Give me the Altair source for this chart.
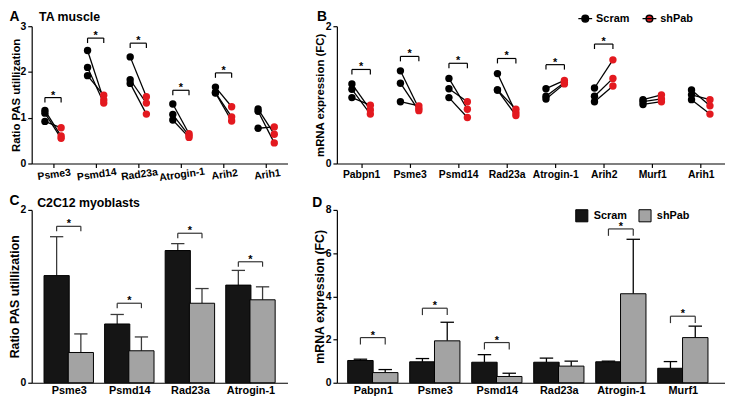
import altair as alt
import pandas as pd

FONT = "Liberation Sans"
RED = "#e3191f"
BAR_DARK = "#151515"
BAR_GRAY = "#a3a3a3"

# ---------------- data ----------------
# Panel A : TA muscle, ratio PAS utilization (3 paired animals per gene)
a_genes = ["Psme3", "Psmd14", "Rad23a", "Atrogin-1", "Arih2", "Arih1"]
a_scram = [[1.16, 1.10, 0.92], [2.47, 2.10, 1.92], [2.33, 1.83, 1.75],
           [1.30, 1.07, 0.95], [1.67, 1.55, 1.54], [1.19, 1.14, 0.77]]
a_shpab = [[0.60, 0.55, 0.78], [1.39, 1.32, 1.49], [1.46, 1.32, 1.08],
           [0.65, 0.61, 0.57], [1.24, 1.02, 0.93], [0.64, 0.45, 0.80]]
a_sig = [1.44, 2.74, 2.63, 1.60, 1.98, None]

# Panel B : TA muscle, mRNA expression (FC)
b_genes = ["Pabpn1", "Psme3", "Psmd14", "Rad23a", "Atrogin-1", "Arih2", "Murf1", "Arih1"]
b_scram = [[1.16, 1.08, 0.96], [1.35, 1.17, 0.90], [1.24, 1.09, 0.96], [1.31, 1.07, 1.07],
           [1.09, 0.98, 0.94], [1.10, 0.98, 0.90], [0.93, 0.90, 0.86], [1.07, 1.00, 0.93]]
b_shpab = [[0.78, 0.72, 0.85], [0.80, 0.77, 0.84], [0.79, 0.90, 0.67], [0.74, 0.79, 0.70],
           [1.21, 1.18, 1.16], [1.51, 1.24, 1.13], [1.00, 0.94, 0.90], [0.84, 0.93, 0.72]]
b_sig = [1.37, 1.56, 1.46, 1.53, 1.44, 1.74, None, None]

# Panel C : C2C12 myoblasts, ratio PAS utilization (mean, mean+SD)
c_genes = ["Psme3", "Psmd14", "Rad23a", "Atrogin-1"]
c_scram = [1.24, 0.68, 1.53, 1.13]
c_scram_top = [1.69, 0.79, 1.61, 1.30]
c_shpab = [0.35, 0.37, 0.92, 0.96]
c_shpab_top = [0.565, 0.53, 1.09, 1.11]
c_sig = [1.81, 0.92, 1.73, 1.40]

# Panel D : C2C12 myoblasts, mRNA expression (FC)
d_genes = ["Pabpn1", "Psme3", "Psmd14", "Rad23a", "Atrogin-1", "Murf1"]
d_scram = [1.03, 0.97, 0.95, 0.95, 0.97, 0.67]
d_scram_top = [1.09, 1.12, 1.30, 1.14, 1.00, 0.98]
d_shpab = [0.47, 1.94, 0.29, 0.77, 4.12, 2.09]
d_shpab_top = [0.61, 2.80, 0.44, 1.00, 6.64, 2.62]
d_sig = [2.09, 3.45, 1.86, None, 7.12, 3.08]

groups = ["Scram", "shPab"]

# symbol: short line with a dot in the middle
LINE_DOT = "M-1,0L1,0M0.48,0A0.48,0.48,0,1,1,-0.48,0A0.48,0.48,0,1,1,0.48,0Z"


def names_expr(names):
    return "[" + ",".join("'%s'" % n for n in names) + "][datum.value]"


def make_x(dom, names, angle, ticks, lsize):
    ax = alt.Axis(values=list(range(len(names))), labelExpr=names_expr(names), title=None,
                  labelAngle=angle, labelAlign="center", labelBaseline="top",
                  ticks=ticks, tickSize=4 if ticks else 0, labelPadding=2,
                  labelFontSize=lsize, grid=False)
    sc = alt.Scale(domain=dom, nice=False, zero=False)
    return lambda f: alt.X(f, type="quantitative", scale=sc, axis=ax)


def make_y(dom, ticks, title, title_x, height, tsize, lsize):
    ax = alt.Axis(values=ticks, format="d", title=title, titleX=title_x, titleY=height / 2,
                  titleAngle=270, titleAlign="center", titleBaseline="bottom",
                  titleFontSize=tsize, labelFontSize=lsize, tickSize=4,
                  labelPadding=2, grid=False)
    sc = alt.Scale(domain=dom, nice=False, zero=True)
    return lambda f: alt.Y(f, type="quantitative", scale=sc, axis=ax)


def label_layer(text, x, y, size):
    return alt.Chart(pd.DataFrame({"t": [text]})).mark_text(
        align="left", baseline="alphabetic", fontSize=size, fontWeight="bold",
        font=FONT, color="black").encode(text="t:N", x=alt.value(x), y=alt.value(y))


def bracket_layers(sig, offset, X, Y, drop, color):
    br = pd.DataFrame([{"x1": i - offset, "x2": i + offset, "xm": i, "yb": s}
                       for i, s in enumerate(sig) if s is not None])
    ends = pd.DataFrame([{"xe": i + d, "yb": s} for i, s in enumerate(sig)
                         if s is not None for d in (-offset, offset)])
    h = alt.Chart(br).mark_rule(color=color, strokeWidth=1.2).encode(
        x=X("x1"), x2="x2:Q", y=Y("yb"))
    v = alt.Chart(ends).mark_rule(color=color, strokeWidth=1.2, y2Offset=drop).encode(
        x=X("xe"), y=Y("yb"), y2="yb:Q")
    star = alt.Chart(br).mark_text(text="*", fontSize=11, fontWeight="bold", font=FONT,
                                   baseline="alphabetic", dy=1, color="black").encode(
        x=X("xm"), y=Y("yb"))
    return [h, v, star]


def paired_panel(genes, scram, shpab, sig, width, height, ydom, yticks, ytitle, title_x,
                 angle, legend, letter, letter_x, letter_y, title=None):
    off = 0.19
    X = make_x([-0.5, len(genes) - 0.5], genes, angle, True, 10.5)
    Y = make_y(ydom, yticks, ytitle, title_x, height, 11.5, 10.5)
    rows = []
    for i, g in enumerate(genes):
        for r in range(len(scram[i])):
            rows.append({"pair": "%s-%d" % (g, r), "cond": "Scram", "x": i - off, "y": scram[i][r]})
            rows.append({"pair": "%s-%d" % (g, r), "cond": "shPab", "x": i + off, "y": shpab[i][r]})
    df = pd.DataFrame(rows)
    lines = alt.Chart(df).mark_line(color="black", strokeWidth=1.3).encode(
        x=X("x"), y=Y("y"), detail="pair:N")
    pts = alt.Chart(df).mark_circle(size=56, opacity=1).encode(
        x=X("x"), y=Y("y"),
        color=alt.Color("cond:N", scale=alt.Scale(domain=groups, range=["black", RED]),
                        legend=legend))
    layers = [lines, pts] + bracket_layers(sig, off, X, Y, 5, "black")
    layers.append(label_layer(letter, letter_x, letter_y, 14))
    if title:
        layers.append(label_layer(title, 7.5, letter_y, 12.5))
    return alt.layer(*layers).properties(width=width, height=height)


def bar_panel(genes, scram, scram_top, shpab, shpab_top, sig, width, height, dom, ydom, yticks,
              ytitle, title_x, legend, letter, letter_x, letter_y, ecolor, drop, title=None):
    off = 0.2
    unit = width / (dom[1] - dom[0])
    cap = 7.0 / unit
    X = make_x(dom, genes, 0, False, 11)
    Y = make_y(ydom, yticks, ytitle, title_x, height, 12.5, 10.5)
    rows = []
    for i, g in enumerate(genes):
        rows.append({"grp": "Scram", "x": i - off, "y": scram[i], "e": scram_top[i],
                     "c1": i - off - cap, "c2": i - off + cap})
        rows.append({"grp": "shPab", "x": i + off, "y": shpab[i], "e": shpab_top[i],
                     "c1": i + off - cap, "c2": i + off + cap})
    df = pd.DataFrame(rows)
    whisk = alt.Chart(df).mark_rule(color=ecolor, strokeWidth=1.3).encode(
        x=X("x"), y=Y("y"), y2="e:Q")
    caps = alt.Chart(df).mark_rule(color=ecolor, strokeWidth=1.3).encode(
        x=X("c1"), x2="c2:Q", y=Y("e"))
    bars = alt.Chart(df).mark_bar(size=2 * off * unit, stroke="black", strokeWidth=1,
                                  opacity=1).encode(
        x=X("x"), y=Y("y"),
        color=alt.Color("grp:N", scale=alt.Scale(domain=groups, range=[BAR_DARK, BAR_GRAY]),
                        legend=legend))
    layers = [whisk, caps, bars] + bracket_layers(sig, off, X, Y, drop, "#333333")
    layers.append(label_layer(letter, letter_x, letter_y, 14))
    if title:
        layers.append(label_layer(title, 5.5, -3, 12.5))
    return alt.layer(*layers).properties(width=width, height=height)


legend_b = alt.Legend(title=None, orient="none", legendX=243.5, legendY=-16,
                      direction="horizontal", symbolType=LINE_DOT, symbolSize=196,
                      symbolStrokeColor="black", symbolStrokeWidth=1.5,
                      labelFontSize=11, labelFontWeight="bold", labelFont=FONT,
                      labelColor="black", labelOffset=3, columnPadding=10, padding=0)
legend_d = alt.Legend(title=None, orient="none", legendX=241, legendY=-1.5,
                      direction="horizontal", symbolType="square", symbolSize=150,
                      symbolStrokeColor="black", symbolStrokeWidth=1, symbolOpacity=1,
                      labelFontSize=11, labelFontWeight="bold", labelFont=FONT,
                      labelColor="black", labelOffset=5, columnPadding=9, padding=0)

A = paired_panel(a_genes, a_scram, a_shpab, a_sig, 259, 139, [0, 3], [0, 1, 2, 3],
                 "Ratio PAS utillization", -10.5, 352, None, "A", -22.5, -4.8,
                 title="TA muscle")
B = paired_panel(b_genes, b_scram, b_shpab, b_sig, 393, 139, [0, 2], [0, 1, 2],
                 "mRNA expression (FC)", -12, 0, legend_b, "B", -20, -4.8)
C = bar_panel(c_genes, c_scram, c_scram_top, c_shpab, c_shpab_top, c_sig, 259, 175,
              [-0.53, 3.53], [0, 2], [0, 1, 2], "Ratio PAS utillization", -10, None,
              "C", -22.5, -5, "#3a3a3a", 5, title="C2C12 myoblasts")
D = bar_panel(d_genes, d_scram, d_scram_top, d_shpab, d_shpab_top, d_sig, 393, 175,
              [-0.5, 5.6], [0, 8], [0, 2, 4, 6, 8], "mRNA expression (FC)", -10.5, legend_d,
              "D", -25, -2.7, "black", 7)

chart = alt.concat(A, B, C, D, columns=2, spacing={"row": 47, "column": 50},
                   bounds="flush", padding=0).resolve_scale(
    color="independent"
).configure_view(stroke=None).configure_axis(
    labelFont=FONT, labelFontWeight="bold", labelColor="black",
    titleFont=FONT, titleFontWeight="bold", titleColor="black",
    domainColor="black", tickColor="black", domainWidth=1.2, tickWidth=1.2
).configure_text(font=FONT)

chart.save("out.html", embed_options={"renderer": "svg", "actions": False})
